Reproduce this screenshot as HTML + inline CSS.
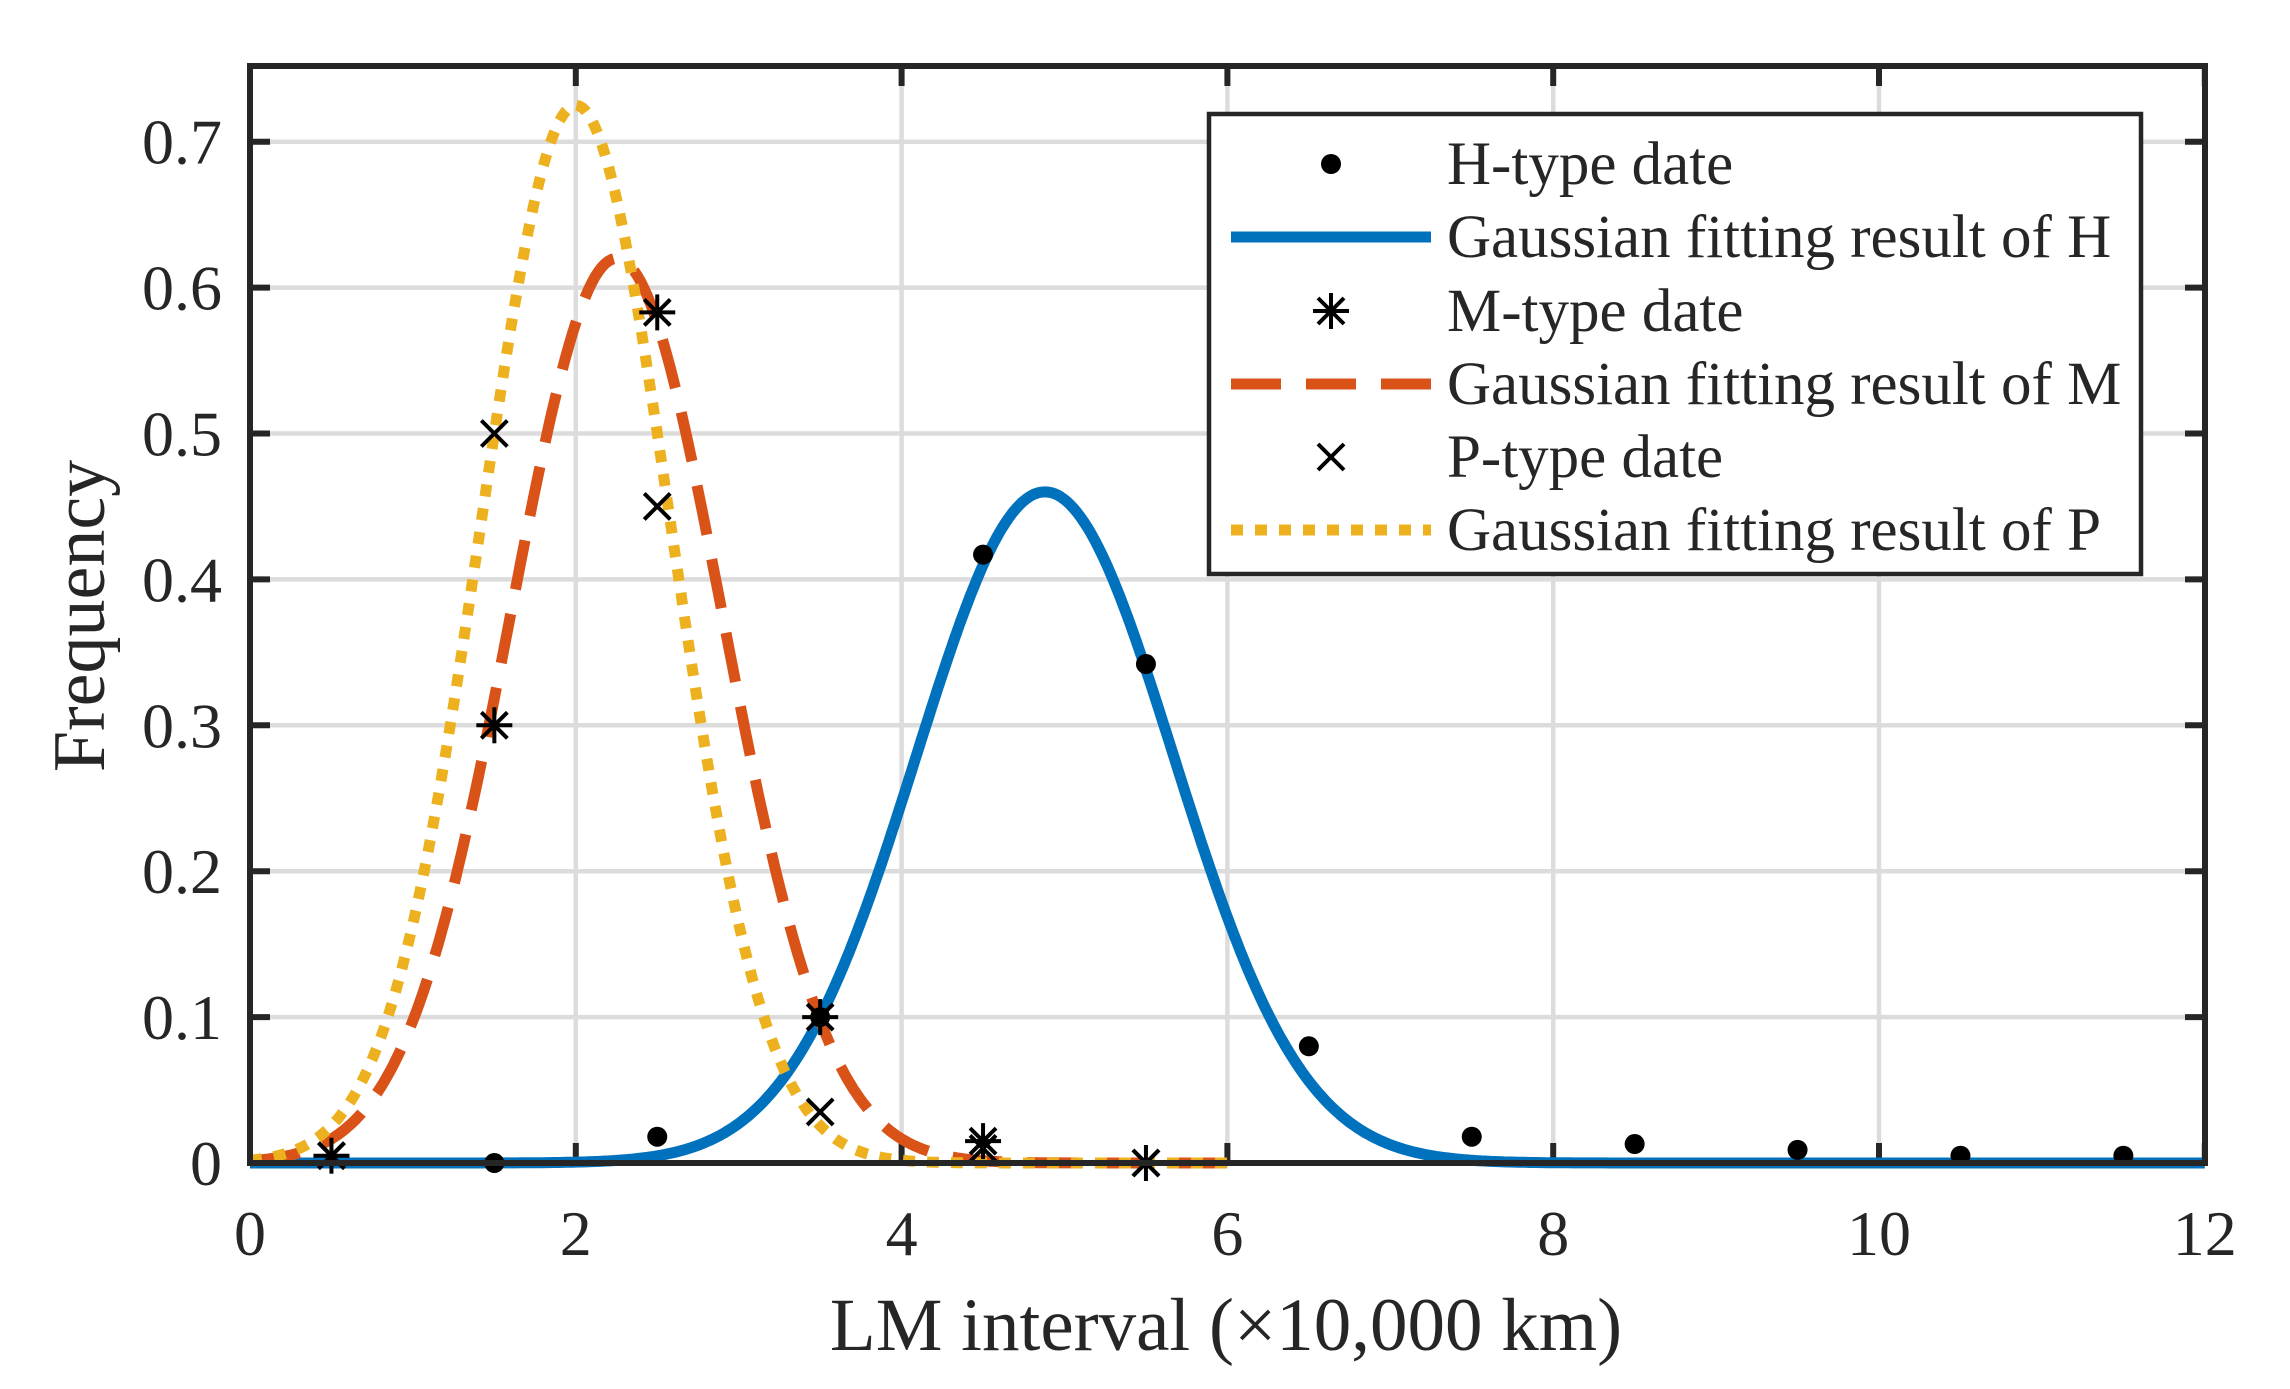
<!DOCTYPE html>
<html><head><meta charset="utf-8"><style>
html,body{margin:0;padding:0;background:#fff;}
svg{display:block;}
text{font-family:"Liberation Serif",serif;fill:#262626;}
</style></head><body>
<svg id="s" width="2290" height="1389" viewBox="0 0 2290 1389" xmlns="http://www.w3.org/2000/svg">
<rect width="2290" height="1389" fill="#fff"/>
<g id="grid" stroke="#dcdcdc" stroke-width="4.5"></g>
<g id="ticks" stroke="#262626" stroke-width="6"></g>
<g id="curves" fill="none" stroke-width="11"></g>
<g id="marks"></g>
<rect x="250" y="66" width="1955" height="1097" fill="none" stroke="#262626" stroke-width="6"/>
<g id="labels" font-size="64"></g>
<text x="1226" y="1350" font-size="75" text-anchor="middle">LM interval (×10,000 km)</text>
<text transform="translate(104,616) rotate(-90)" font-size="74" text-anchor="middle">Frequency</text>
<g id="legend">
<rect x="1209" y="114" width="932" height="460" fill="#fff" stroke="#262626" stroke-width="4.5"/>
<circle cx="1331" cy="164" r="10" fill="#000"/>
<line x1="1231" y1="237" x2="1431" y2="237" stroke="#0072BD" stroke-width="11"/>
<g stroke="#000" stroke-width="4"><line x1="1331" y1="293" x2="1331" y2="329"/><line x1="1313" y1="311" x2="1349" y2="311"/><line x1="1318" y1="298" x2="1344" y2="324"/><line x1="1318" y1="324" x2="1344" y2="298"/></g>
<line x1="1231" y1="384" x2="1431" y2="384" stroke="#D95319" stroke-width="11" stroke-dasharray="50 25"/>
<g stroke="#000" stroke-width="4"><line x1="1318" y1="444" x2="1344" y2="470"/><line x1="1318" y1="470" x2="1344" y2="444"/></g>
<line x1="1231" y1="530" x2="1431" y2="530" stroke="#EDB120" stroke-width="11" stroke-dasharray="12 12"/>
<g font-size="61" fill="#000">
<text x="1447" y="184">H-type date</text>
<text x="1447" y="257">Gaussian fitting result of H</text>
<text x="1447" y="331">M-type date</text>
<text x="1447" y="404">Gaussian fitting result of M</text>
<text x="1447" y="477">P-type date</text>
<text x="1447" y="550">Gaussian fitting result of P</text>
</g>
</g>
</svg>
<script>
const NS="http://www.w3.org/2000/svg";
const X=v=>250+v*162.9, Y=v=>1163-v*1459;
function el(p,t,a){const e=document.createElementNS(NS,t);for(const k in a)e.setAttribute(k,a[k]);document.getElementById(p).appendChild(e);return e;}
for(let i=1;i<6;i++){el("grid","line",{x1:X(2*i),x2:X(2*i),y1:66,y2:1163});}
for(let i=1;i<=7;i++){el("grid","line",{x1:250,x2:2205,y1:Y(i/10),y2:Y(i/10)});}
for(let i=0;i<=6;i++){const x=X(2*i);el("ticks","line",{x1:x,x2:x,y1:1163,y2:1143});el("ticks","line",{x1:x,x2:x,y1:66,y2:86});
 const t=el("labels","text",{x:x,y:1255,"text-anchor":"middle"});t.textContent=String(2*i);}
for(let i=0;i<=7;i++){const y=Y(i/10);el("ticks","line",{x1:250,x2:270,y1:y,y2:y});el("ticks","line",{x1:2205,x2:2185,y1:y,y2:y});
 const t=el("labels","text",{x:222,y:y+22,"text-anchor":"end"});t.textContent=i==0?"0":"0."+i;}
function g(a,m,s,x0,x1){let d="";for(let x=x0;x<=x1+1e-9;x+=0.02){const v=a*Math.exp(-(x-m)*(x-m)/(2*s*s));d+=(d?"L":"M")+X(x).toFixed(1)+" "+Y(v).toFixed(1);}return d;}
el("curves","path",{d:g(0.46,4.88,0.79,0,12),stroke:"#0072BD"});
el("curves","path",{d:g(0.62,2.25,0.65,0,6),stroke:"#D95319","stroke-dasharray":"50 25"});
el("curves","path",{d:g(0.725,2.0,0.58,0,6),stroke:"#EDB120","stroke-dasharray":"12 12"});
const H=[[1.5,0],[2.5,0.018],[3.5,0.1],[4.5,0.417],[5.5,0.342],[6.5,0.08],[7.5,0.018],[8.5,0.013],[9.5,0.009],[10.5,0.005],[11.5,0.005]];
H.forEach(p=>el("marks","circle",{cx:X(p[0]),cy:Y(p[1]),r:10,fill:"#000"}));
const M=[[0.5,0.005],[1.5,0.3],[2.5,0.583],[3.5,0.1],[4.5,0.015],[5.5,0]];
M.forEach(p=>{const x=X(p[0]),y=Y(p[1]);const a={stroke:"#000","stroke-width":4};
 el("marks","line",Object.assign({x1:x,x2:x,y1:y-18,y2:y+18},a));el("marks","line",Object.assign({x1:x-18,x2:x+18,y1:y,y2:y},a));
 el("marks","line",Object.assign({x1:x-13,x2:x+13,y1:y-13,y2:y+13},a));el("marks","line",Object.assign({x1:x-13,x2:x+13,y1:y+13,y2:y-13},a));});
const P=[[0.5,0.005],[1.5,0.5],[2.5,0.45],[3.5,0.035],[4.5,0.01],[5.5,0]];
P.forEach(p=>{const x=X(p[0]),y=Y(p[1]);const a={stroke:"#000","stroke-width":4};
 el("marks","line",Object.assign({x1:x-13,x2:x+13,y1:y-13,y2:y+13},a));el("marks","line",Object.assign({x1:x-13,x2:x+13,y1:y+13,y2:y-13},a));});
</script>
</body></html>
